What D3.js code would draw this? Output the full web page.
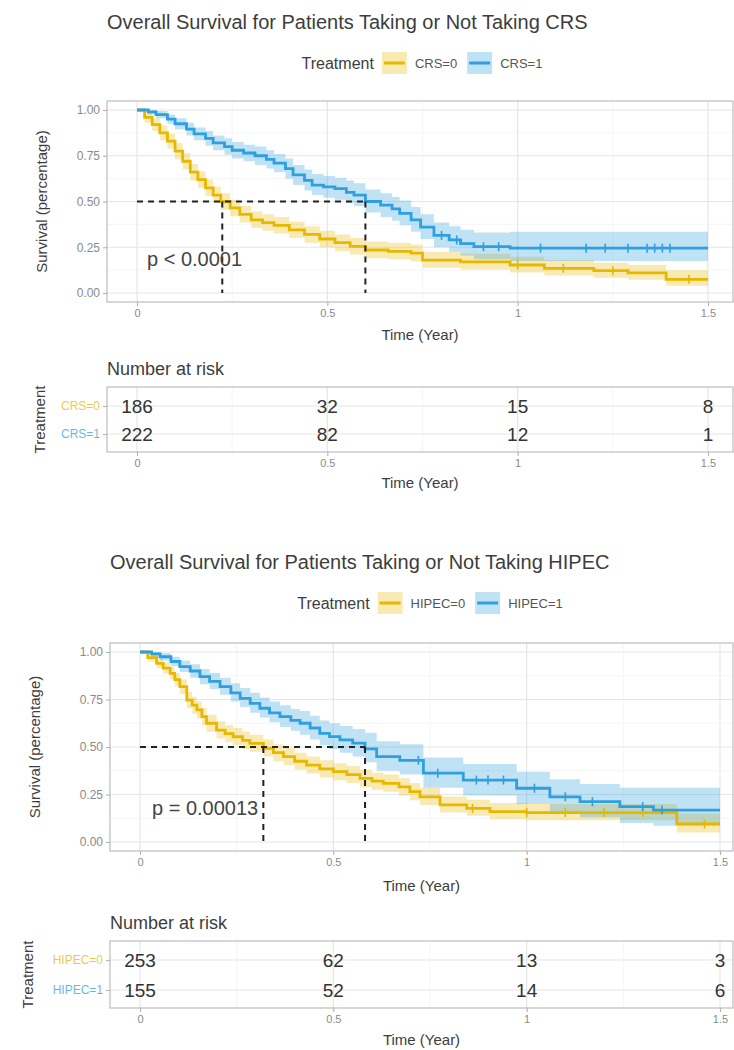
<!DOCTYPE html>
<html>
<head>
<meta charset="utf-8">
<script src="https://cdn.jsdelivr.net/npm/d3@7"></script>
<style>
  body { margin: 0; background: #fff; }
  svg { display: block; font-family: "Liberation Sans", Arial, Helvetica, sans-serif; }
</style>
</head>
<body>
<svg id="chart" width="734" height="1050"></svg>
<script>
// shared axis values
const maxTime = 1.5;
const xTicks = [0, 0.5, 1, 1.5];
const xMinor = [0.25, 0.75, 1.25];
const yTicks = [0, 0.25, 0.5, 0.75, 1];
const yMinor = [0.125, 0.375, 0.625, 0.875];

// ---- CRS figure ----
const crsTitle = "Overall Survival for Patients Taking or Not Taking CRS";
const crsGroups = ["CRS=0", "CRS=1"];
const crsPValue = "p < 0.0001";
const crsMedians = [0.224, 0.6];
const crsRisk0 = [186, 32, 15, 8];
const crsRisk1 = [222, 82, 12, 1];

const crs0Time = [0, 0.02, 0.04, 0.06, 0.08, 0.1, 0.12, 0.14, 0.16, 0.18, 0.2, 0.22, 0.245, 0.27, 0.3, 0.33, 0.36, 0.4, 0.44, 0.48, 0.52, 0.56, 0.6, 0.66, 0.72, 0.75, 0.85, 0.98, 1.07, 1.2, 1.29, 1.39];
const crs0Surv = [1, 0.96, 0.92, 0.875, 0.83, 0.775, 0.72, 0.66, 0.62, 0.575, 0.535, 0.5, 0.465, 0.43, 0.4, 0.385, 0.37, 0.345, 0.32, 0.295, 0.275, 0.255, 0.235, 0.228, 0.218, 0.18, 0.17, 0.153, 0.135, 0.122, 0.11, 0.075];
const crs0Low  = [1, 0.93, 0.885, 0.835, 0.79, 0.73, 0.675, 0.615, 0.575, 0.53, 0.49, 0.455, 0.42, 0.385, 0.355, 0.34, 0.325, 0.3, 0.275, 0.25, 0.23, 0.21, 0.19, 0.183, 0.172, 0.138, 0.128, 0.112, 0.095, 0.083, 0.072, 0.04];
const crs0High = [1, 0.99, 0.955, 0.915, 0.87, 0.82, 0.765, 0.705, 0.665, 0.62, 0.58, 0.545, 0.51, 0.475, 0.445, 0.43, 0.415, 0.39, 0.365, 0.34, 0.32, 0.3, 0.282, 0.275, 0.265, 0.225, 0.215, 0.198, 0.18, 0.165, 0.155, 0.125];
const crs0Censor = [1.0, 1.12, 1.25, 1.45];

const crs1Time = [0, 0.03, 0.05, 0.08, 0.1, 0.13, 0.15, 0.18, 0.2, 0.23, 0.25, 0.28, 0.31, 0.34, 0.36, 0.39, 0.41, 0.44, 0.46, 0.49, 0.52, 0.55, 0.57, 0.6, 0.64, 0.67, 0.69, 0.72, 0.745, 0.78, 0.82, 0.85, 0.885, 0.98];
const crs1Surv = [1, 0.99, 0.975, 0.95, 0.925, 0.895, 0.87, 0.845, 0.82, 0.8, 0.78, 0.765, 0.75, 0.73, 0.71, 0.68, 0.645, 0.615, 0.59, 0.58, 0.57, 0.55, 0.535, 0.5, 0.48, 0.46, 0.435, 0.4, 0.36, 0.315, 0.29, 0.27, 0.253, 0.245];
const crs1Low  = [1, 0.975, 0.955, 0.925, 0.895, 0.86, 0.835, 0.805, 0.78, 0.755, 0.735, 0.72, 0.7, 0.68, 0.66, 0.625, 0.59, 0.56, 0.535, 0.52, 0.51, 0.49, 0.475, 0.44, 0.415, 0.395, 0.37, 0.335, 0.295, 0.25, 0.225, 0.205, 0.185, 0.175];
const crs1High = [1, 1, 0.995, 0.975, 0.955, 0.93, 0.905, 0.885, 0.86, 0.845, 0.825, 0.81, 0.8, 0.78, 0.76, 0.735, 0.7, 0.675, 0.65, 0.64, 0.63, 0.615, 0.6, 0.565, 0.545, 0.525, 0.505, 0.47, 0.43, 0.385, 0.365, 0.345, 0.33, 0.335];
const crs1Censor = [0.8, 0.84, 0.91, 0.95, 1.06, 1.18, 1.23, 1.29, 1.34, 1.36, 1.38, 1.4];

// ---- HIPEC figure ----
const hipecTitle = "Overall Survival for Patients Taking or Not Taking HIPEC";
const hipecGroups = ["HIPEC=0", "HIPEC=1"];
const hipecPValue = "p = 0.00013";
const hipecMedians = [0.319, 0.582];
const hipecRisk0 = [253, 62, 13, 3];
const hipecRisk1 = [155, 52, 14, 6];

const hipec0Time = [0, 0.02, 0.043, 0.06, 0.078, 0.09, 0.103, 0.121, 0.135, 0.147, 0.16, 0.172, 0.198, 0.22, 0.241, 0.265, 0.284, 0.319, 0.345, 0.371, 0.4, 0.431, 0.465, 0.5, 0.535, 0.569, 0.6, 0.629, 0.67, 0.698, 0.724, 0.776, 0.845, 0.905, 1.0, 1.388];
const hipec0Surv = [1, 0.97, 0.94, 0.915, 0.888, 0.855, 0.818, 0.747, 0.72, 0.695, 0.66, 0.625, 0.589, 0.57, 0.554, 0.535, 0.519, 0.493, 0.47, 0.449, 0.425, 0.405, 0.385, 0.37, 0.355, 0.335, 0.32, 0.309, 0.29, 0.265, 0.238, 0.195, 0.177, 0.16, 0.155, 0.095];
const hipec0Low  = [1, 0.95, 0.915, 0.885, 0.855, 0.82, 0.78, 0.705, 0.675, 0.65, 0.615, 0.58, 0.545, 0.525, 0.51, 0.49, 0.475, 0.45, 0.425, 0.405, 0.38, 0.36, 0.34, 0.325, 0.31, 0.29, 0.275, 0.265, 0.245, 0.22, 0.195, 0.155, 0.138, 0.12, 0.115, 0.05];
const hipec0High = [1, 0.99, 0.965, 0.945, 0.92, 0.89, 0.855, 0.79, 0.765, 0.74, 0.705, 0.67, 0.635, 0.615, 0.6, 0.58, 0.565, 0.54, 0.515, 0.495, 0.47, 0.45, 0.43, 0.415, 0.4, 0.38, 0.365, 0.355, 0.335, 0.31, 0.285, 0.24, 0.222, 0.205, 0.2, 0.15];
const hipec0Censor = [0.86, 1.0, 1.1, 1.2, 1.3, 1.46];

const hipec1Time = [0, 0.03, 0.052, 0.08, 0.103, 0.13, 0.155, 0.18, 0.207, 0.235, 0.259, 0.285, 0.31, 0.335, 0.362, 0.39, 0.414, 0.44, 0.465, 0.49, 0.517, 0.55, 0.582, 0.612, 0.672, 0.733, 0.836, 0.974, 1.06, 1.138, 1.241, 1.328];
const hipec1Surv = [1, 0.99, 0.975, 0.95, 0.923, 0.9, 0.87, 0.845, 0.818, 0.785, 0.756, 0.73, 0.704, 0.68, 0.66, 0.64, 0.625, 0.6, 0.572, 0.555, 0.537, 0.52, 0.49, 0.449, 0.43, 0.362, 0.326, 0.283, 0.238, 0.212, 0.186, 0.168];
const hipec1Low  = [1, 0.975, 0.955, 0.925, 0.895, 0.865, 0.83, 0.805, 0.775, 0.74, 0.71, 0.68, 0.655, 0.63, 0.605, 0.585, 0.565, 0.54, 0.51, 0.49, 0.47, 0.45, 0.42, 0.375, 0.355, 0.285, 0.245, 0.2, 0.155, 0.13, 0.1, 0.085];
const hipec1High = [1, 1, 0.995, 0.975, 0.955, 0.935, 0.91, 0.89, 0.865, 0.835, 0.81, 0.785, 0.76, 0.74, 0.72, 0.7, 0.69, 0.665, 0.64, 0.625, 0.61, 0.595, 0.575, 0.53, 0.515, 0.445, 0.41, 0.37, 0.33, 0.305, 0.285, 0.285];
const hipec1Censor = [0.72, 0.77, 0.87, 0.9, 0.94, 1.02, 1.1, 1.17, 1.3, 1.35];

const gold = "#E7B800";
const blue = "#2E9FDF";
const svg = d3.select("#chart");

function stepAt(times, surv, t) {
  const i = Math.max(0, d3.bisectRight(times, t) - 1);
  return surv[i];
}

function styleAxis(sel, size) {
  sel.attr("font-family", null).attr("font-size", size);
  sel.select(".domain").remove();
  sel.selectAll(".tick line").attr("stroke", "#b3b3b3").attr("stroke-width", 1.1);
  sel.selectAll(".tick text").attr("fill", "#8a8a8a");
}

function drawGrid(g, x, y, L, top, bottom, rows) {
  const grid = g.append("g");
  xMinor.forEach(v => grid.append("line").attr("x1", x(v)).attr("x2", x(v))
    .attr("y1", top).attr("y2", bottom).attr("stroke", "#f3f3f3").attr("stroke-width", 0.8));
  xTicks.forEach(v => grid.append("line").attr("x1", x(v)).attr("x2", x(v))
    .attr("y1", top).attr("y2", bottom).attr("stroke", "#e6e6e6").attr("stroke-width", 1.2));
  if (y) {
    yMinor.forEach(v => grid.append("line").attr("x1", L.left).attr("x2", L.right)
      .attr("y1", y(v)).attr("y2", y(v)).attr("stroke", "#f3f3f3").attr("stroke-width", 0.8));
    yTicks.forEach(v => grid.append("line").attr("x1", L.left).attr("x2", L.right)
      .attr("y1", y(v)).attr("y2", y(v)).attr("stroke", "#e6e6e6").attr("stroke-width", 1.2));
  }
  if (rows) {
    rows.domain().forEach(v => grid.append("line").attr("x1", L.left).attr("x2", L.right)
      .attr("y1", rows(v)).attr("y2", rows(v)).attr("stroke", "#e6e6e6").attr("stroke-width", 1.2));
  }
}

function drawFigure(cfg, L) {
  const g = svg.append("g");
  const x = d3.scaleLinear().domain([0, maxTime]).range([L.x0, L.x1]);
  const y = d3.scaleLinear().domain([0, 1]).range([L.y0, L.y1]);

  // title
  g.append("text").attr("x", L.left).attr("y", L.titleY).attr("dy", "0.35em")
    .attr("font-size", 20).attr("fill", "#3d3d3d").text(cfg.title);

  // legend
  const leg = g.append("g");
  let cx = 0;
  const lt = leg.append("text").attr("x", cx).attr("y", 0).attr("dy", "0.35em")
    .attr("font-size", 16).attr("fill", "#3d3d3d").text("Treatment");
  cx += lt.node().getComputedTextLength() + 8;
  cfg.groups.forEach((name, i) => {
    const col = cfg.curves[i].color;
    leg.append("rect").attr("x", cx).attr("y", -11).attr("width", 25).attr("height", 22)
      .attr("fill", col).attr("fill-opacity", 0.3);
    leg.append("line").attr("x1", cx + 2).attr("x2", cx + 23).attr("y1", 0).attr("y2", 0)
      .attr("stroke", col).attr("stroke-width", 3);
    cx += 33;
    const t = leg.append("text").attr("x", cx).attr("y", 0).attr("dy", "0.35em")
      .attr("font-size", 13).attr("fill", "#555").text(name);
    cx += t.node().getComputedTextLength() + 10;
  });
  leg.attr("transform", `translate(${L.legendCx - (cx - 10) / 2},${L.legendY})`);

  // main panel
  const clipId = "clip" + L.top;
  g.append("clipPath").attr("id", clipId).append("rect")
    .attr("x", L.left).attr("y", L.top).attr("width", L.right - L.left).attr("height", L.bottom - L.top);
  drawGrid(g, x, y, L, L.top, L.bottom, null);

  const plot = g.append("g").attr("clip-path", `url(#${clipId})`);
  const area = d3.area().curve(d3.curveStepAfter)
    .x(d => x(d.t)).y0(d => y(d.lo)).y1(d => y(d.hi));
  const line = d3.line().curve(d3.curveStepAfter).x(d => x(d.t)).y(d => y(d.s));

  cfg.curves.forEach(c => {
    const pts = c.time.map((t, i) => ({ t: t, s: c.surv[i], lo: c.low[i], hi: c.high[i] }));
    const last = pts[pts.length - 1];
    pts.push({ t: maxTime, s: last.s, lo: last.lo, hi: last.hi });
    c.pts = pts;
    plot.append("path").datum(pts).attr("d", area).attr("fill", c.color).attr("fill-opacity", 0.3);
  });
  cfg.curves.forEach(c => {
    plot.append("path").datum(c.pts).attr("d", line).attr("fill", "none")
      .attr("stroke", c.color).attr("stroke-width", 2.8);
    c.censor.forEach(t => {
      const s = stepAt(c.time, c.surv, t);
      plot.append("line").attr("x1", x(t)).attr("x2", x(t)).attr("y1", y(s) - 4.5).attr("y2", y(s) + 4.5)
        .attr("stroke", c.color).attr("stroke-width", 1.6);
    });
  });

  // median lines
  const dash = "6,5";
  plot.append("line").attr("x1", x(0)).attr("x2", x(d3.max(cfg.medians)))
    .attr("y1", y(0.5)).attr("y2", y(0.5)).attr("stroke", "#222").attr("stroke-width", 2)
    .attr("stroke-dasharray", dash);
  cfg.medians.forEach(m => {
    plot.append("line").attr("x1", x(m)).attr("x2", x(m)).attr("y1", y(0.5)).attr("y2", y(0))
      .attr("stroke", "#222").attr("stroke-width", 2).attr("stroke-dasharray", dash);
  });

  g.append("text").attr("x", L.pX).attr("y", L.pY).attr("dy", "0.35em")
    .attr("font-size", 20).attr("fill", "#444").text(cfg.pValue);

  g.append("rect").attr("x", L.left).attr("y", L.top).attr("width", L.right - L.left)
    .attr("height", L.bottom - L.top).attr("fill", "none").attr("stroke", "#bdbdbd").attr("stroke-width", 1.2);

  // axes
  const ax = g.append("g").attr("transform", `translate(0,${L.bottom})`)
    .call(d3.axisBottom(x).tickValues(xTicks).tickFormat(d3.format("~g")).tickSize(4).tickPadding(3));
  styleAxis(ax, 11);
  const ay = g.append("g").attr("transform", `translate(${L.left},0)`)
    .call(d3.axisLeft(y).tickValues(yTicks).tickFormat(d3.format(".2f")).tickSize(4).tickPadding(3));
  styleAxis(ay, 12);

  g.append("text").attr("x", (L.left + L.right) / 2).attr("y", L.xTitleY).attr("dy", "0.35em")
    .attr("text-anchor", "middle").attr("font-size", 15).attr("fill", "#3d3d3d").text("Time (Year)");
  g.append("text").attr("transform", `translate(${L.yTitleX},${(L.top + L.bottom) / 2}) rotate(-90)`)
    .attr("dy", "0.35em").attr("text-anchor", "middle").attr("font-size", 15).attr("fill", "#3d3d3d")
    .text("Survival (percentage)");

  // risk table
  g.append("text").attr("x", L.left).attr("y", L.riskTitleY).attr("dy", "0.35em")
    .attr("font-size", 18).attr("fill", "#3d3d3d").text("Number at risk");
  const rows = d3.scalePoint().domain(cfg.groups).range(L.riskRows);
  drawGrid(g, x, null, L, L.riskTop, L.riskBottom, rows);
  g.append("rect").attr("x", L.left).attr("y", L.riskTop).attr("width", L.right - L.left)
    .attr("height", L.riskBottom - L.riskTop).attr("fill", "none").attr("stroke", "#bdbdbd").attr("stroke-width", 1.2);

  cfg.groups.forEach((name, i) => {
    cfg.risk[i].forEach((n, j) => {
      g.append("text").attr("x", x(xTicks[j])).attr("y", rows(name)).attr("dy", "0.36em")
        .attr("text-anchor", "middle").attr("font-size", 19).attr("fill", "#333").text(n);
    });
  });

  const rx = g.append("g").attr("transform", `translate(0,${L.riskBottom})`)
    .call(d3.axisBottom(x).tickValues(xTicks).tickFormat(d3.format("~g")).tickSize(4).tickPadding(3));
  styleAxis(rx, 11);
  const ry = g.append("g").attr("transform", `translate(${L.left},0)`)
    .call(d3.axisLeft(rows).tickSize(4).tickPadding(3));
  styleAxis(ry, 12);
  ry.selectAll(".tick text").attr("fill", (d, i) => cfg.curves[i].color).attr("fill-opacity", 0.75);

  g.append("text").attr("x", (L.left + L.right) / 2).attr("y", L.riskXTitleY).attr("dy", "0.35em")
    .attr("text-anchor", "middle").attr("font-size", 15).attr("fill", "#3d3d3d").text("Time (Year)");
  g.append("text").attr("transform", `translate(${L.riskYTitleX},${(L.riskTop + L.riskBottom) / 2}) rotate(-90)`)
    .attr("dy", "0.35em").attr("text-anchor", "middle").attr("font-size", 15).attr("fill", "#3d3d3d")
    .text("Treatment");
}

drawFigure({
  title: crsTitle, groups: crsGroups, pValue: crsPValue, medians: crsMedians,
  risk: [crsRisk0, crsRisk1],
  curves: [
    { color: gold, time: crs0Time, surv: crs0Surv, low: crs0Low, high: crs0High, censor: crs0Censor },
    { color: blue, time: crs1Time, surv: crs1Surv, low: crs1Low, high: crs1High, censor: crs1Censor }
  ]
}, {
  left: 107, right: 733, top: 101, bottom: 302, x0: 137, x1: 708, y0: 293, y1: 110,
  titleY: 22, legendY: 63, legendCx: 422, pX: 147, pY: 259, xTitleY: 335, yTitleX: 42,
  riskTitleY: 369, riskTop: 387, riskBottom: 452, riskRows: [406, 434], riskXTitleY: 483, riskYTitleX: 40
});

drawFigure({
  title: hipecTitle, groups: hipecGroups, pValue: hipecPValue, medians: hipecMedians,
  risk: [hipecRisk0, hipecRisk1],
  curves: [
    { color: gold, time: hipec0Time, surv: hipec0Surv, low: hipec0Low, high: hipec0High, censor: hipec0Censor },
    { color: blue, time: hipec1Time, surv: hipec1Surv, low: hipec1Low, high: hipec1High, censor: hipec1Censor }
  ]
}, {
  left: 110, right: 733, top: 643, bottom: 851, x0: 140, x1: 720, y0: 842, y1: 652,
  titleY: 562, legendY: 603, legendCx: 430, pX: 152, pY: 808, xTitleY: 886, yTitleX: 35,
  riskTitleY: 923, riskTop: 941, riskBottom: 1008, riskRows: [960, 990], riskXTitleY: 1040, riskYTitleX: 28
});
</script>
</body>
</html>
